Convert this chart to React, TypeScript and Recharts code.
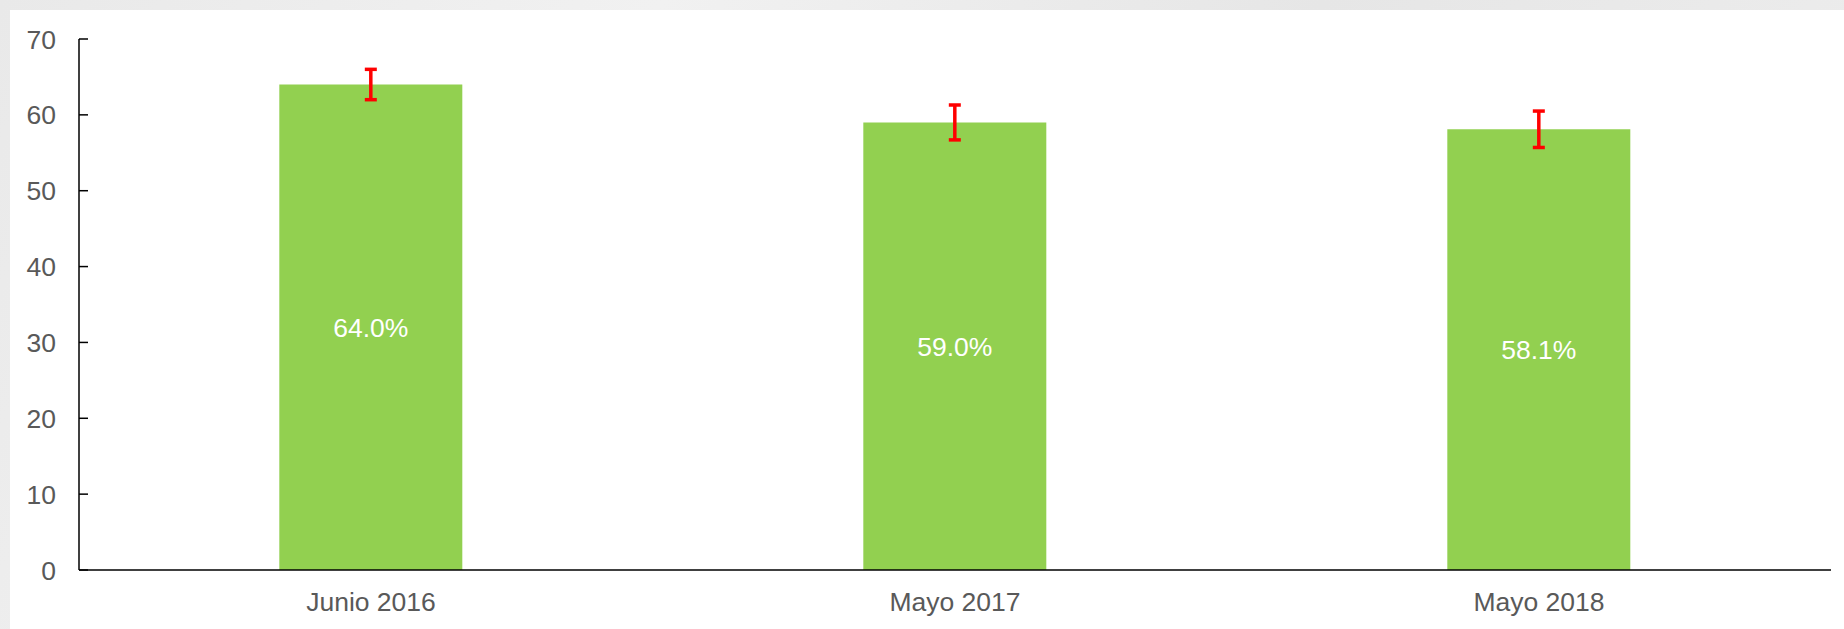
import React from "react";
import { BarChart, Bar, XAxis, YAxis, ErrorBar, LabelList } from "recharts";

const categories = ["Junio 2016", "Mayo 2017", "Mayo 2018"];
const values = [64.0, 59.0, 58.1];
const errors = [2.0, 2.3, 2.4];
const yTicks = [0, 10, 20, 30, 40, 50, 60, 70];

const data = categories.map((c, i) => ({ name: c, value: values[i], err: errors[i] }));

const FONT = '"Liberation Sans", Arial, sans-serif';
const TEXT = "#595959";

const YTick = (props: any) => {
  const { x, y, payload } = props;
  return (
    <g>
      <line x1={x} x2={x + 9} y1={y} y2={y} stroke="#000" strokeWidth={1.5} />
      <text x={x - 23} y={y} dy="0.36em" textAnchor="end" fill={TEXT} fontSize={26.5} fontFamily={FONT}>
        {payload.value}
      </text>
    </g>
  );
};

export default function App() {
  return (
    <div
      style={{
        position: "absolute",
        left: 0,
        top: 0,
        width: 1844,
        height: 629,
        background: "linear-gradient(120deg, #e9e9e9 0%, #f1f1f1 30%, #e6e6e6 60%, #efefef 100%)",
        overflow: "hidden",
      }}
    >
      <div style={{ position: "absolute", left: 10, top: 10, right: 0, bottom: 0, background: "#fff" }} />
      <div style={{ position: "absolute", left: 0, top: 0 }}>
        <BarChart
          width={1844}
          height={629}
          data={data}
          margin={{ top: 39, right: 13, bottom: 0, left: 0 }}
          barCategoryGap="34.3%"
        >
          <XAxis
            dataKey="name"
            height={59}
            tickLine={false}
            tickSize={0}
            tickMargin={22}
            axisLine={{ stroke: "#000", strokeWidth: 1.5 }}
            tick={{ fill: TEXT, fontSize: 26.5, fontFamily: FONT }}
            interval={0}
          />
          <YAxis
            width={79}
            domain={[0, 70]}
            ticks={yTicks}
            tickLine={false}
            tickSize={0}
            tickMargin={0}
            axisLine={{ stroke: "#000", strokeWidth: 1.5 }}
            tick={<YTick />}
          />
          <Bar dataKey="value" fill="#92d050" isAnimationActive={false}>
            <ErrorBar dataKey="err" width={6} stroke="#ff0000" strokeWidth={3.5} direction="y" />
            <LabelList
              dataKey="value"
              position="center"
              fill="#ffffff"
              fontSize={26.5}
              fontFamily={FONT}
              formatter={(v: any) => `${Number(v).toFixed(1)}%`}
            />
          </Bar>
        </BarChart>
      </div>
    </div>
  );
}
